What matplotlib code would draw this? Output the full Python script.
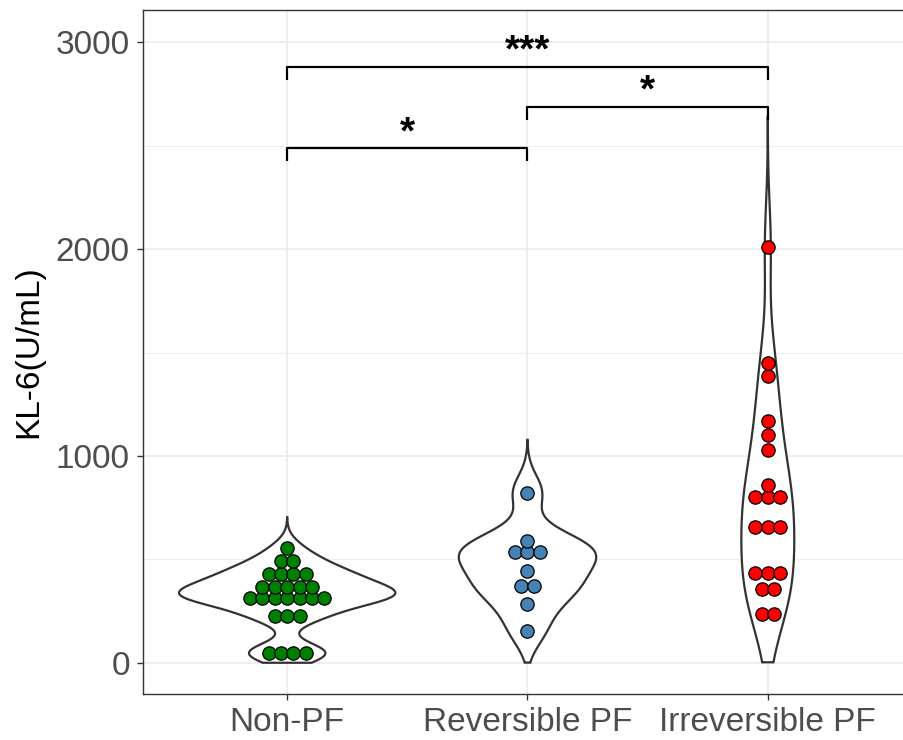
import numpy as np
import matplotlib.pyplot as plt

plt.rcParams['font.family'] = ['Liberation Sans', 'DejaVu Sans']

# Data (KL-6, U/mL); dots at their plotted bin centres
groups = ["Non-PF", "Reversible PF", "Irreversible PF"]
non_pf = [557, 493, 493, 430, 430, 430, 430, 366, 366, 366, 366, 366,
          313, 313, 313, 313, 313, 313, 313, 228, 228, 228, 47, 47, 47, 47]
reversible = [823, 591, 538, 538, 538, 446, 373, 373, 284, 155]
irreversible = [2011, 1451, 1387, 1171, 1100, 1029, 860, 800, 800, 800,
                658, 658, 658, 436, 436, 436, 357, 357, 235, 235]
colors = ["#008000", "#4682B4", "#FF0000"]
# kernel bandwidths, from how far each violin runs past its top dot (tail = 3 bw)
bandwidths = [49, 85, 210]

# significance brackets: (from, to, height, label)
brackets = [(1, 2, 2486, "*"), (2, 3, 2685, "*"), (1, 3, 2881, "***")]
tip = 62

data = [non_pf, reversible, irreversible]


def kde(v, grid, bw):
    v = np.asarray(v, float)
    z = (grid[:, None] - v[None, :]) / bw
    return np.exp(-0.5 * z ** 2).sum(axis=1) / (len(v) * bw * np.sqrt(2 * np.pi))


fig = plt.figure(figsize=(9.04, 7.4), dpi=100)
ax = fig.add_axes([143 / 904, 46 / 740, 769 / 904, 684 / 740])
ax.set_xlim(0.4, 3.6)
ax.set_ylim(-150.25, 3155.25)

# densities (ggplot style: trim = FALSE, scale = "area", cut at 0)
curves = []
for v, bw in zip(data, bandwidths):
    grid = np.linspace(min(v) - 3 * bw, max(v) + 3 * bw, 512)
    curves.append((grid, kde(v, grid, bw)))
dmax = max(d.max() for g, d in curves)

for i, (grid, d) in enumerate(curves):
    keep = grid >= 0
    g = grid[keep]
    w = 0.45 * d[keep] / dmax
    xs = np.concatenate([i + 1 - w, (i + 1 + w)[::-1], [i + 1 - w[0]]])
    ys = np.concatenate([g, g[::-1], [g[0]]])
    ax.fill(xs, ys, facecolor="white", edgecolor="#333333", lw=1.6, zorder=2)

# centred dot stacks
diam_px = 12.4
dx = diam_px / (ax.get_position().width * 904 / 3.2)
for i, v in enumerate(data):
    vals, counts = np.unique(v, return_counts=True)
    for val, n in zip(vals, counts):
        off = (np.arange(n) - (n - 1) / 2) * dx
        ax.scatter(i + 1 + off, np.full(n, val), s=92, c=colors[i],
                   edgecolors="black", linewidths=0.9, zorder=3)

for a, b, h, lab in brackets:
    ax.plot([a, a, b, b], [h - tip, h, h, h - tip], color="black", lw=1.6,
            zorder=4, solid_capstyle="butt")
    ax.text((a + b) / 2, h + 26, lab, ha="center", va="baseline",
            fontsize=28, fontweight="bold", color="black", zorder=4)

ax.set_xticks([1, 2, 3])
ax.set_xticklabels(groups)
ax.set_yticks([0, 1000, 2000, 3000])
ax.set_yticks([500, 1500, 2500], minor=True)
ax.tick_params(axis="both", which="major", labelsize=24, labelcolor="#4D4D4D",
               color="#333333", length=4.5, width=1, pad=5)
ax.tick_params(axis="y", which="minor", length=0)
ax.grid(True, which="major", color="#EBEBEB", lw=1.2, zorder=0)
ax.grid(True, which="minor", axis="y", color="#EBEBEB", lw=0.6, zorder=0)
ax.set_axisbelow(True)
for sp in ax.spines.values():
    sp.set_color("#333333")
    sp.set_linewidth(1)
ax.spines["right"].set_visible(False)

ax.set_ylabel("KL-6(U/mL)", fontsize=24, color="black")
ax.yaxis.set_label_coords(-0.128, 0.5)

fig.savefig("out.png", dpi=100)
